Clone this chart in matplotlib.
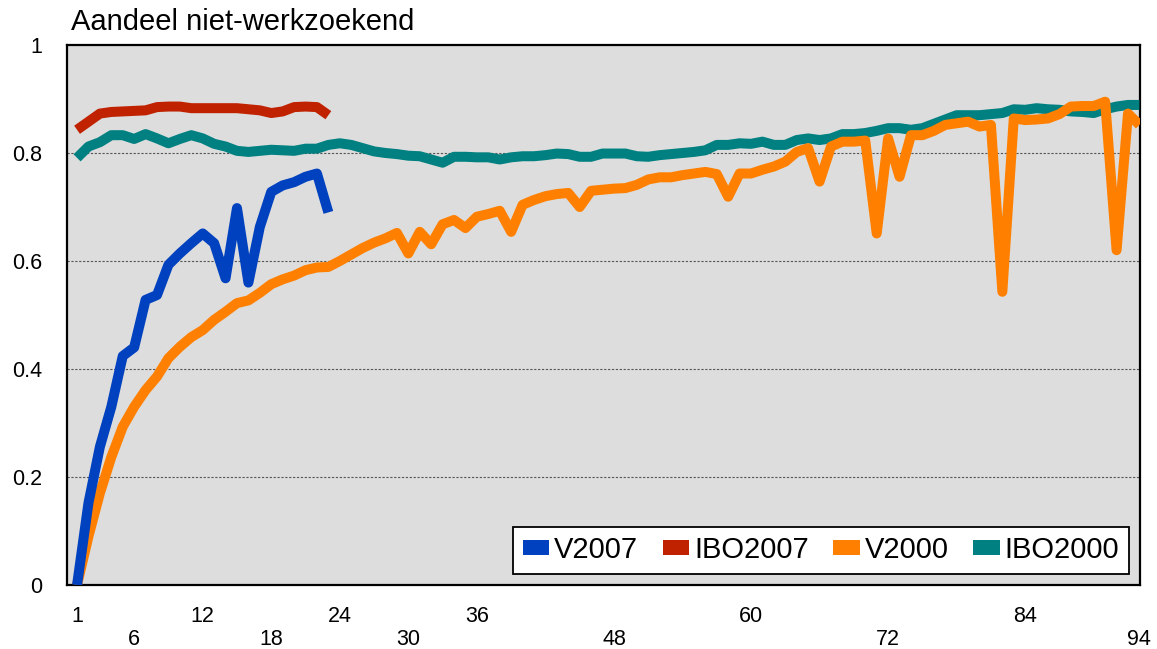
import matplotlib
matplotlib.use("Agg")
import matplotlib.pyplot as plt
from matplotlib.patches import Patch
from matplotlib.ticker import FixedLocator, FixedFormatter

plt.rcParams['font.family'] = ['Liberation Sans', 'DejaVu Sans']

title = "Aandeel niet-werkzoekend"
series_names = ["V2007", "IBO2007", "V2000", "IBO2000"]
colors = ["#0041BF", "#C02200", "#FF8000", "#008080"]

v2007 = [0.0, 0.152, 0.256, 0.33, 0.424, 0.44, 0.528, 0.537, 0.593, 0.614, 0.633,
         0.651, 0.633, 0.568, 0.698, 0.56, 0.663, 0.728, 0.74, 0.746, 0.756, 0.762, 0.69]

ibo2007 = [0.843, 0.858, 0.873, 0.876, 0.877, 0.878, 0.879, 0.885, 0.886, 0.886, 0.883,
           0.883, 0.883, 0.883, 0.883, 0.881, 0.879, 0.874, 0.877, 0.885, 0.886, 0.885, 0.87]

v2000 = [0.0, 0.09, 0.17, 0.237, 0.293, 0.33, 0.361, 0.386, 0.42, 0.441, 0.459, 0.472,
         0.491, 0.506, 0.522, 0.527, 0.541, 0.557, 0.566, 0.573, 0.583, 0.588, 0.589, 0.600,
         0.612,
         0.624, 0.634, 0.642, 0.652, 0.614, 0.654, 0.631, 0.668, 0.676, 0.661, 0.682, 0.687,
         0.693, 0.654, 0.704, 0.713, 0.72, 0.724, 0.726, 0.7, 0.73, 0.732, 0.734, 0.735,
         0.741, 0.751, 0.755, 0.755, 0.759, 0.762, 0.765, 0.761, 0.719,
         0.762, 0.762, 0.769, 0.775, 0.784, 0.802, 0.809, 0.747, 0.812, 0.821, 0.821, 0.823,
         0.651, 0.827, 0.756, 0.833, 0.833, 0.841, 0.852, 0.855, 0.858, 0.849, 0.852, 0.543,
         0.864, 0.861, 0.862, 0.864, 0.872, 0.886, 0.887, 0.887, 0.895, 0.62, 0.873, 0.852]

ibo2000 = [0.791, 0.812, 0.82, 0.833, 0.833, 0.826, 0.835, 0.827, 0.818, 0.826, 0.833,
           0.827, 0.817, 0.812, 0.804, 0.802, 0.804, 0.806, 0.805, 0.804, 0.808, 0.808,
           0.815, 0.818, 0.815,
           0.809, 0.803, 0.8, 0.798, 0.795, 0.794, 0.788, 0.782, 0.793, 0.793, 0.792, 0.792,
           0.788, 0.792, 0.794, 0.794, 0.796, 0.799, 0.798, 0.793, 0.793, 0.799, 0.799,
           0.799, 0.794, 0.793, 0.796, 0.798, 0.8, 0.802,
           0.805, 0.815, 0.815, 0.818, 0.817, 0.821, 0.815, 0.815, 0.824, 0.827, 0.824,
           0.827, 0.835, 0.835, 0.837, 0.841, 0.846, 0.846, 0.843, 0.846, 0.854, 0.862,
           0.870, 0.870, 0.870, 0.872, 0.874, 0.881, 0.880, 0.883, 0.881, 0.880, 0.877,
           0.876, 0.874, 0.881, 0.886, 0.889, 0.889]

ticks_row1 = [1, 12, 24, 36, 60, 84]
ticks_row2 = [6, 18, 30, 48, 72, 94]
y_ticks = [0, 0.2, 0.4, 0.6, 0.8, 1.0]
y_labels = ["0", "0.2", "0.4", "0.6", "0.8", "1"]

W, H = 1157, 649
fig = plt.figure(figsize=(W / 100, H / 100), dpi=100)
L, R, T, B = 67, 1140, 45, 585
ax = fig.add_axes([L / W, 1 - B / H, (R - L) / W, (B - T) / H])
ax.set_facecolor("#DDDDDD")

lw = 7.2
series = [v2007, ibo2007, v2000, ibo2000]
zorders = [6, 4, 5, 3]
for vals, c, z in zip(series, colors, zorders):
    xs = list(range(1, len(vals) + 1))
    ax.plot(xs, vals, color=c, lw=lw, solid_joinstyle='round',
            solid_capstyle='butt', zorder=z)

ax.set_xlim(0.12, 94.05)
ax.set_ylim(0, 1)

ax.yaxis.set_major_locator(FixedLocator(y_ticks))
ax.yaxis.set_major_formatter(FixedFormatter(y_labels))
ax.tick_params(axis='y', length=0, pad=18, labelsize=15.5)

ax.xaxis.set_major_locator(FixedLocator(ticks_row1))
ax.xaxis.set_major_formatter(FixedFormatter([str(t) for t in ticks_row1]))
ax.xaxis.set_minor_locator(FixedLocator(ticks_row2))
ax.xaxis.set_minor_formatter(FixedFormatter([str(t) for t in ticks_row2]))
ax.tick_params(axis='x', which='major', length=0, pad=15, labelsize=15.5)
ax.tick_params(axis='x', which='minor', length=0, pad=32, labelsize=15.5)

for yv in y_ticks[1:-1]:
    ax.axhline(yv, color="#555555", lw=0.8, ls=(0, (2, 1.5)), zorder=1)

for s in ax.spines.values():
    s.set_color("black")
    s.set_linewidth(1.6)

fig.text(71 / W, 1 - 30 / H, title, fontsize=21, ha='left', va='baseline')

handles = [Patch(facecolor=c, edgecolor='none') for c in colors]
leg = ax.legend(handles, series_names, loc='lower right', ncol=4, fontsize=21,
                frameon=True, fancybox=False, framealpha=1, edgecolor='black',
                handlelength=0.9, handleheight=0.42, handletextpad=0.17,
                columnspacing=0.85, borderpad=0.33, borderaxespad=0.38)
leg.get_frame().set_linewidth(1.3)
leg.set_zorder(10)

fig.savefig("out.png", dpi=100)
